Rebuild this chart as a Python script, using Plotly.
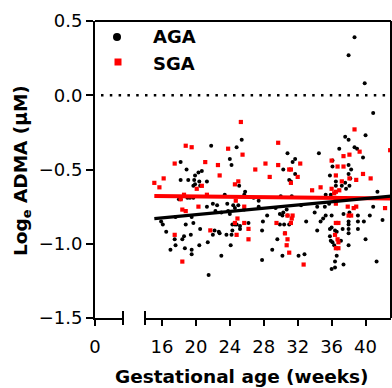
import plotly.graph_objects as go

# ---------------- data ----------------
aga_weeks = [38.7, 38.0, 39.9, 40.9, 21.8, 24.8, 25.4, 18.2, 18.9, 20.7, 20.3, 19.9, 24.0, 24.2,
             18.2, 19.1, 19.8, 20.4, 21.3, 19.9, 19.7, 20.5, 25.1, 25.8, 25.7, 23.4, 18.0, 18.2,
             19.0, 19.3, 19.7, 22.0, 22.5, 23.7, 24.4, 25.0, 26.8, 27.4, 27.4, 21.3, 22.3, 23.0,
             23.8, 24.6, 25.7, 24.0, 19.5, 17.6, 28.4, 15.9, 16.1, 18.8, 19.7, 24.3, 24.6, 24.8,
             25.2, 26.2, 27.9, 20.5, 22.2, 22.7, 22.8, 16.5, 24.3, 25.2, 23.6, 24.2, 19.4, 22.0,
             17.5, 18.4, 18.6, 21.4, 24.1, 17.6, 20.4, 17.0, 18.7, 19.5, 19.5, 23.0, 27.8, 21.5,
             37.6, 38.0, 40.0, 38.7, 39.0, 36.9, 34.5, 30.8, 31.7, 31.4, 39.7, 36.1, 36.1, 38.0,
             38.3, 30.3, 31.7, 35.8, 38.0, 38.2, 36.5, 37.6, 38.1, 37.7, 37.2, 31.0, 31.2, 36.5,
             35.9, 35.3, 30.0, 41.4, 36.4, 36.6, 35.7, 35.2, 34.3, 31.3, 32.4, 29.4, 30.3, 29.9,
             30.7, 30.2, 30.8, 33.0, 35.0, 34.7, 36.0, 35.3, 37.4, 38.1, 39.1, 38.0, 39.1, 39.8,
             40.5, 42.0, 29.9, 30.4, 31.0, 27.8, 34.3, 35.8, 36.0, 36.4, 36.6, 37.3, 38.0, 38.0,
             38.0, 39.1, 30.5, 29.6, 35.8, 35.9, 36.1, 36.3, 37.1, 40.0, 38.0, 29.0, 30.2, 32.1,
             32.8, 36.6, 36.4, 36.0, 36.4, 37.4, 41.3, 34.0, 40.9]
aga_adma = [0.39, 0.27, 0.08, -0.12, -0.34, -0.35, -0.30, -0.45, -0.50, -0.51, -0.52, -0.54, -0.43, -0.47,
            -0.57, -0.57, -0.57, -0.58, -0.58, -0.60, -0.61, -0.61, -0.61, -0.65, -0.67, -0.67, -0.70, -0.70,
            -0.69, -0.69, -0.69, -0.73, -0.74, -0.73, -0.74, -0.74, -0.69, -0.71, -0.75, -0.75, -0.78, -0.79,
            -0.78, -0.76, -0.77, -0.80, -0.82, -0.82, -0.81, -0.85, -0.87, -0.87, -0.86, -0.87, -0.87, -0.87,
            -0.88, -0.86, -0.85, -0.90, -0.91, -0.92, -0.93, -0.92, -0.91, -0.90, -0.94, -0.94, -0.94, -0.94,
            -0.97, -0.97, -0.95, -0.99, -1.01, -1.01, -1.01, -1.04, -1.03, -1.04, -1.07, -1.08, -1.11, -1.21,
            -0.28, -0.30, -0.27, -0.35, -0.36, -0.36, -0.39, -0.39, -0.43, -0.45, -0.42, -0.44, -0.48, -0.47,
            -0.50, -0.50, -0.53, -0.54, -0.53, -0.56, -0.58, -0.59, -0.61, -0.63, -0.61, -0.57, -0.58, -0.61,
            -0.67, -0.67, -0.68, -0.65, -0.71, -0.71, -0.73, -0.75, -0.75, -0.68, -0.74, -0.76, -0.79, -0.80,
            -0.77, -0.81, -0.81, -0.85, -0.83, -0.85, -0.81, -0.81, -0.80, -0.79, -0.81, -0.85, -0.85, -0.85,
            -0.81, -0.84, -0.87, -0.87, -0.87, -0.91, -0.91, -0.90, -0.89, -0.91, -0.92, -0.90, -0.87, -0.90,
            -0.93, -0.90, -0.93, -0.97, -0.95, -0.98, -0.99, -1.01, -0.98, -0.97, -1.01, -1.04, -1.08, -1.08,
            -1.07, -1.08, -1.12, -1.17, -1.16, -1.14, -1.12, -0.79, -0.75]

sga_weeks = [25.3, 18.8, 19.5, 23.8, 25.5, 17.5, 21.1, 22.6, 27.0, 28.2, 22.8, 16.2, 15.1, 15.7,
             24.6, 25.0, 20.7, 20.1, 18.6, 21.3, 18.2, 24.7, 25.7, 20.3, 18.4, 18.8, 24.9, 24.6,
             25.7, 26.2, 21.7, 24.8, 17.5, 26.2, 18.4, 38.7, 29.7, 29.7, 31.0, 31.2, 32.3, 32.0,
             28.7, 31.2, 37.4, 38.1, 39.3, 36.0, 36.7, 37.4, 36.5, 37.2, 38.1, 38.9, 39.7, 40.6,
             33.7, 34.7, 36.0, 36.9, 36.5, 36.3, 36.5, 37.9, 38.6, 38.9, 42.3, 42.9, 29.5, 31.3,
             31.2, 31.4, 30.8, 30.5, 30.8, 30.7, 31.0, 32.7, 36.5, 36.8, 38.0, 38.3, 36.4, 36.7,
             36.8, 36.5, 36.8]
sga_adma = [-0.18, -0.34, -0.35, -0.36, -0.40, -0.46, -0.45, -0.47, -0.50, -0.46, -0.54, -0.56, -0.59, -0.62,
            -0.60, -0.58, -0.61, -0.63, -0.67, -0.67, -0.70, -0.71, -0.75, -0.75, -0.77, -0.78, -0.83, -0.86,
            -0.86, -0.90, -0.91, -0.94, -0.94, -0.97, -1.12, -0.23, -0.32, -0.47, -0.50, -0.50, -0.46, -0.55,
            -0.55, -0.59, -0.41, -0.40, -0.38, -0.44, -0.48, -0.48, -0.54, -0.58, -0.56, -0.57, -0.53, -0.56,
            -0.64, -0.62, -0.63, -0.64, -0.65, -0.66, -0.73, -0.75, -0.76, -0.75, -0.76, -0.37, -0.86, -0.83,
            -0.86, -0.81, -0.81, -0.93, -0.97, -1.01, -1.06, -1.14, -0.86, -0.86, -0.81, -0.81, -0.94, -0.97,
            -0.99, -1.03, -1.03]

# linear-regression results (slope per week, intercept) and fitted span
aga_fit = {"slope": 0.0054, "intercept": -0.912}
sga_fit = {"slope": -0.0006, "intercept": -0.669}
fit_span = [15.1, 43.0]

x_ticks_right = [16, 20, 24, 28, 32, 36, 40]
x_ticks_left = [0]
y_ticks = [-1.5, -1.0, -0.5, 0.0, 0.5]

# ---------------- figure ----------------
W, H = 392, 388
ML, MR, MT, MB = 95, 1, 21, 70
PW, PH = W - ML - MR, H - MT - MB
FONT = "DejaVu Sans"
RED = "#ff0000"

def px_x(p):   # pixel offset from plot left -> paper
    return p / PW

def px_y(p):   # pixel offset from plot bottom -> paper
    return p / PH

fig = go.Figure()

# empty trace so that the left (0) x segment forms a subplot with the y axis
fig.add_trace(go.Scatter(x=[None], y=[None], xaxis="x", yaxis="y", mode="markers",
                         showlegend=False, hoverinfo="skip"))

fig.add_trace(go.Scatter(x=aga_weeks, y=aga_adma, xaxis="x2", yaxis="y", mode="markers",
                         marker=dict(symbol="circle", size=4, color="black"), name="AGA",
                         showlegend=False))
fig.add_trace(go.Scatter(x=sga_weeks, y=sga_adma, xaxis="x2", yaxis="y", mode="markers",
                         marker=dict(symbol="square", size=4.2, color=RED), name="SGA",
                         showlegend=False))

def fit_line(fit):
    return [fit["intercept"] + fit["slope"] * x for x in fit_span]

fig.add_trace(go.Scatter(x=fit_span, y=fit_line(sga_fit), xaxis="x2", yaxis="y", mode="lines",
                         line=dict(color=RED, width=4), showlegend=False, hoverinfo="skip"))
fig.add_trace(go.Scatter(x=fit_span, y=fit_line(aga_fit), xaxis="x2", yaxis="y", mode="lines",
                         line=dict(color="black", width=3.2), showlegend=False, hoverinfo="skip"))

tickfont = dict(family=FONT, size=18, color="black")
axis_common = dict(showgrid=False, zeroline=False, showline=True, linewidth=2, linecolor="black",
                   ticks="outside", tickwidth=2, tickcolor="black", tickfont=tickfont,
                   fixedrange=True)

left_end = px_x(28)
right_start = px_x(50)

fig.update_layout(
    width=W, height=H,
    margin=dict(l=ML, r=MR, t=MT, b=MB, pad=0),
    paper_bgcolor="white", plot_bgcolor="white",
    showlegend=False,
    xaxis=dict(domain=[0, left_end], range=[0, 3.3], tickvals=x_ticks_left, ticklen=6,
               ticklabelstandoff=5, anchor="y", **axis_common),
    xaxis2=dict(domain=[right_start, 1], range=[14, 43], tickvals=x_ticks_right, ticklen=6,
                ticklabelstandoff=5, anchor="y", **axis_common),
    yaxis=dict(range=[-1.5, 0.5], tickvals=y_ticks, tickformat=".1f", ticklen=7,
               anchor="x", **axis_common),
)

shapes = []
# frame top and right
shapes.append(dict(type="line", xref="paper", yref="paper", x0=0, x1=1, y0=1, y1=1,
                   line=dict(color="black", width=2)))
shapes.append(dict(type="line", xref="paper", yref="paper", x0=1, x1=1, y0=0, y1=1,
                   line=dict(color="black", width=2)))
# axis-break end caps
for xc in (left_end, right_start):
    shapes.append(dict(type="line", xref="paper", yref="paper", x0=xc, x1=xc,
                       y0=px_y(-7), y1=px_y(7), line=dict(color="black", width=2)))
# dotted reference line at 0
shapes.append(dict(type="line", xref="paper", yref="y", x0=px_x(6), x1=1, y0=0, y1=0,
                   line=dict(color="black", width=2.5, dash="2.5px,6.3px"), layer="below"))
# legend glyphs
shapes.append(dict(type="circle", xref="paper", yref="paper",
                   x0=px_x(113 - ML), x1=px_x(121 - ML),
                   y0=px_y(H - MB - 41), y1=px_y(H - MB - 33),
                   fillcolor="black", line=dict(color="black", width=0)))
shapes.append(dict(type="rect", xref="paper", yref="paper",
                   x0=px_x(114.5 - ML), x1=px_x(121.5 - ML),
                   y0=px_y(H - MB - 65.5), y1=px_y(H - MB - 58.5),
                   fillcolor=RED, line=dict(color=RED, width=0)))
fig.update_layout(shapes=shapes)

bold = dict(family=FONT, size=18, color="black", weight="bold")
ann = [
    dict(text="AGA", xref="paper", yref="paper", x=px_x(151 - ML), y=px_y(H - MB - 37),
         xanchor="left", yanchor="middle", showarrow=False, font=bold),
    dict(text="SGA", xref="paper", yref="paper", x=px_x(151 - ML), y=px_y(H - MB - 63),
         xanchor="left", yanchor="middle", showarrow=False, font=bold),
    dict(text="Gestational age (weeks)", xref="paper", yref="paper", x=px_x(242 - ML),
         y=px_y(H - MB - 376), xanchor="center", yanchor="middle", showarrow=False,
         font=dict(bold, size=18.5)),
    dict(text="Log<sub>e</sub> ADMA (μM)", xref="paper", yref="paper", x=px_x(22 - ML),
         y=px_y(H - MB - 171), xanchor="center", yanchor="middle", textangle=-90,
         showarrow=False, font=dict(bold, size=18.5)),
]
fig.update_layout(annotations=ann)

fig.write_html("out.html", config={"displayModeBar": False},
               post_script="document.body.style.margin='0';")
